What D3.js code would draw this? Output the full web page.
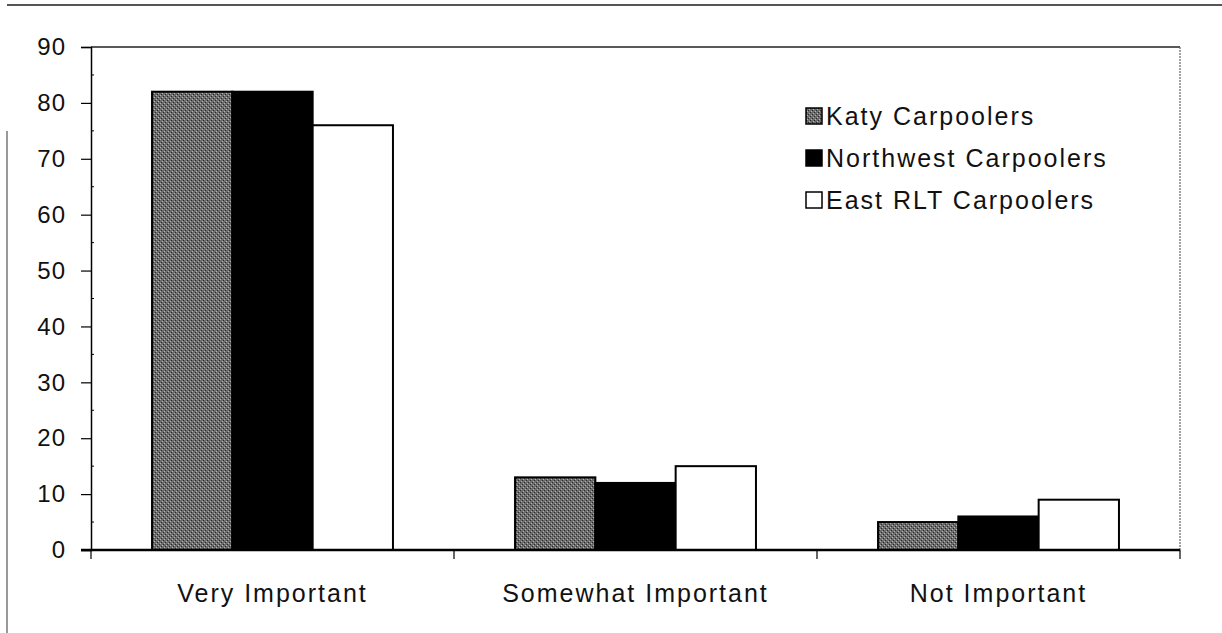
<!DOCTYPE html>
<html>
<head>
<meta charset="utf-8">
<script src="https://cdn.jsdelivr.net/npm/d3@7"></script>
<style>
  body { margin: 0; background: #fff; }
  svg text { font-family: "Liberation Sans", Arial, sans-serif; fill: #111; }
</style>
</head>
<body>
<svg id="Vis" width="1222" height="633"></svg>
<script>
var categories = ["Very Important", "Somewhat Important", "Not Important"];
var seriesNames = ["Katy Carpoolers", "Northwest Carpoolers", "East RLT Carpoolers"];
var katyValues = [82, 13, 5];
var northwestValues = [82, 12, 6];
var eastValues = [76, 15, 9];
var yTicks = [0, 10, 20, 30, 40, 50, 60, 70, 80, 90];

var seriesValues = [katyValues, northwestValues, eastValues];
var fills = ["url(#katyPat)", "#000", "#fff"];

var svg = d3.select("#Vis");

// stippled grey used for the Katy bars
var defs = svg.append("defs");
var pat = defs.append("pattern")
  .attr("id", "katyPat")
  .attr("width", 4).attr("height", 4)
  .attr("patternUnits", "userSpaceOnUse");
pat.append("rect").attr("width", 4).attr("height", 4).attr("fill", "#6c6c6c");
pat.append("rect").attr("x", 0).attr("y", 0).attr("width", 1).attr("height", 1).attr("fill", "#2a2a2a");
pat.append("rect").attr("x", 2).attr("y", 2).attr("width", 1).attr("height", 1).attr("fill", "#2a2a2a");
pat.append("rect").attr("x", 1).attr("y", 3).attr("width", 1).attr("height", 1).attr("fill", "#b5b5b5");
pat.append("rect").attr("x", 3).attr("y", 1).attr("width", 1).attr("height", 1).attr("fill", "#b5b5b5");

// outer frame of the figure (top + left only, like the scan)
svg.append("line").attr("x1", 7).attr("x2", 1222).attr("y1", 5).attr("y2", 5)
  .attr("stroke", "#555").attr("stroke-width", 2);
svg.append("line").attr("x1", 7).attr("x2", 7).attr("y1", 131).attr("y2", 633)
  .attr("stroke", "#777").attr("stroke-width", 1.5);

var plotLeft = 91, plotRight = 1180, plotTop = 47, plotBottom = 550;

var x0 = d3.scaleBand().domain(categories).range([plotLeft, plotRight]).padding(0);
var x1 = d3.scaleBand().domain(d3.range(3)).range([0, x0.bandwidth()])
  .paddingInner(0).paddingOuter(0.76);
var y = d3.scaleLinear().domain([0, 90]).range([plotBottom, plotTop]);

// plot frame top + right
svg.append("line").attr("x1", plotLeft).attr("x2", plotRight).attr("y1", plotTop).attr("y2", plotTop)
  .attr("stroke", "#222").attr("stroke-width", 1.5);
svg.append("line").attr("x1", plotRight).attr("x2", plotRight).attr("y1", plotTop).attr("y2", plotBottom)
  .attr("stroke", "#666").attr("stroke-width", 1.2).attr("stroke-dasharray", "2,1");

// bars
var groups = svg.append("g").selectAll("g")
  .data(categories).enter().append("g")
  .attr("transform", function(d){ return "translate(" + x0(d) + ",0)"; });

groups.selectAll("rect")
  .data(function(d, i){ return seriesValues.map(function(s, k){ return {k: k, v: s[i]}; }); })
  .enter().append("rect")
  .attr("x", function(d){ return x1(d.k); })
  .attr("y", function(d){ return y(d.v); })
  .attr("width", x1.bandwidth())
  .attr("height", function(d){ return plotBottom - y(d.v); })
  .attr("fill", function(d){ return fills[d.k]; })
  .attr("stroke", "#000")
  .attr("stroke-width", 2);

// y axis
var yAxis = d3.axisLeft(y).tickValues(yTicks).tickSize(10).tickPadding(15);
var gy = svg.append("g").attr("transform", "translate(" + plotLeft + ",0)").call(yAxis);
gy.select(".domain").attr("stroke", "#000").attr("stroke-width", 1.5);
gy.selectAll(".tick line").attr("stroke", "#000").attr("stroke-width", 1.2);
gy.selectAll("text").attr("font-size", 24).attr("letter-spacing", 1)
  .attr("font-family", "Liberation Sans, Arial, sans-serif").attr("fill", "#111");

// minor ticks inside
svg.append("g").selectAll("line")
  .data(yTicks.slice(0, -1).map(function(t){ return t + 5; }))
  .enter().append("line")
  .attr("x1", plotLeft).attr("x2", plotLeft + 3)
  .attr("y1", function(d){ return y(d); }).attr("y2", function(d){ return y(d); })
  .attr("stroke", "#000").attr("stroke-width", 1);

// x axis: baseline + boundary ticks
svg.append("line").attr("x1", plotLeft - 10).attr("x2", plotRight).attr("y1", plotBottom).attr("y2", plotBottom)
  .attr("stroke", "#000").attr("stroke-width", 2.5);
var bounds = categories.map(function(c){ return x0(c); }).concat([plotRight]);
svg.append("g").selectAll("line")
  .data(bounds).enter().append("line")
  .attr("x1", function(d){ return d; }).attr("x2", function(d){ return d; })
  .attr("y1", plotBottom).attr("y2", plotBottom + 9)
  .attr("stroke", "#000").attr("stroke-width", 1.2);

svg.append("g").selectAll("text")
  .data(categories).enter().append("text")
  .attr("x", function(d){ return x0(d) + x0.bandwidth() / 2; })
  .attr("y", 602)
  .attr("text-anchor", "middle")
  .attr("font-size", 25)
  .attr("letter-spacing", 2)
  .text(function(d){ return d; });

// legend
var legend = svg.append("g").selectAll("g")
  .data(seriesNames).enter().append("g")
  .attr("transform", function(d, i){ return "translate(806," + (116 + i * 42) + ")"; });
legend.append("rect")
  .attr("x", 0).attr("y", -8).attr("width", 16).attr("height", 16)
  .attr("fill", function(d, i){ return fills[i]; })
  .attr("stroke", "#000").attr("stroke-width", 1.5);
legend.append("text")
  .attr("x", 20).attr("y", 9)
  .attr("font-size", 25)
  .attr("letter-spacing", 2)
  .text(function(d){ return d; });
</script>
</body>
</html>
